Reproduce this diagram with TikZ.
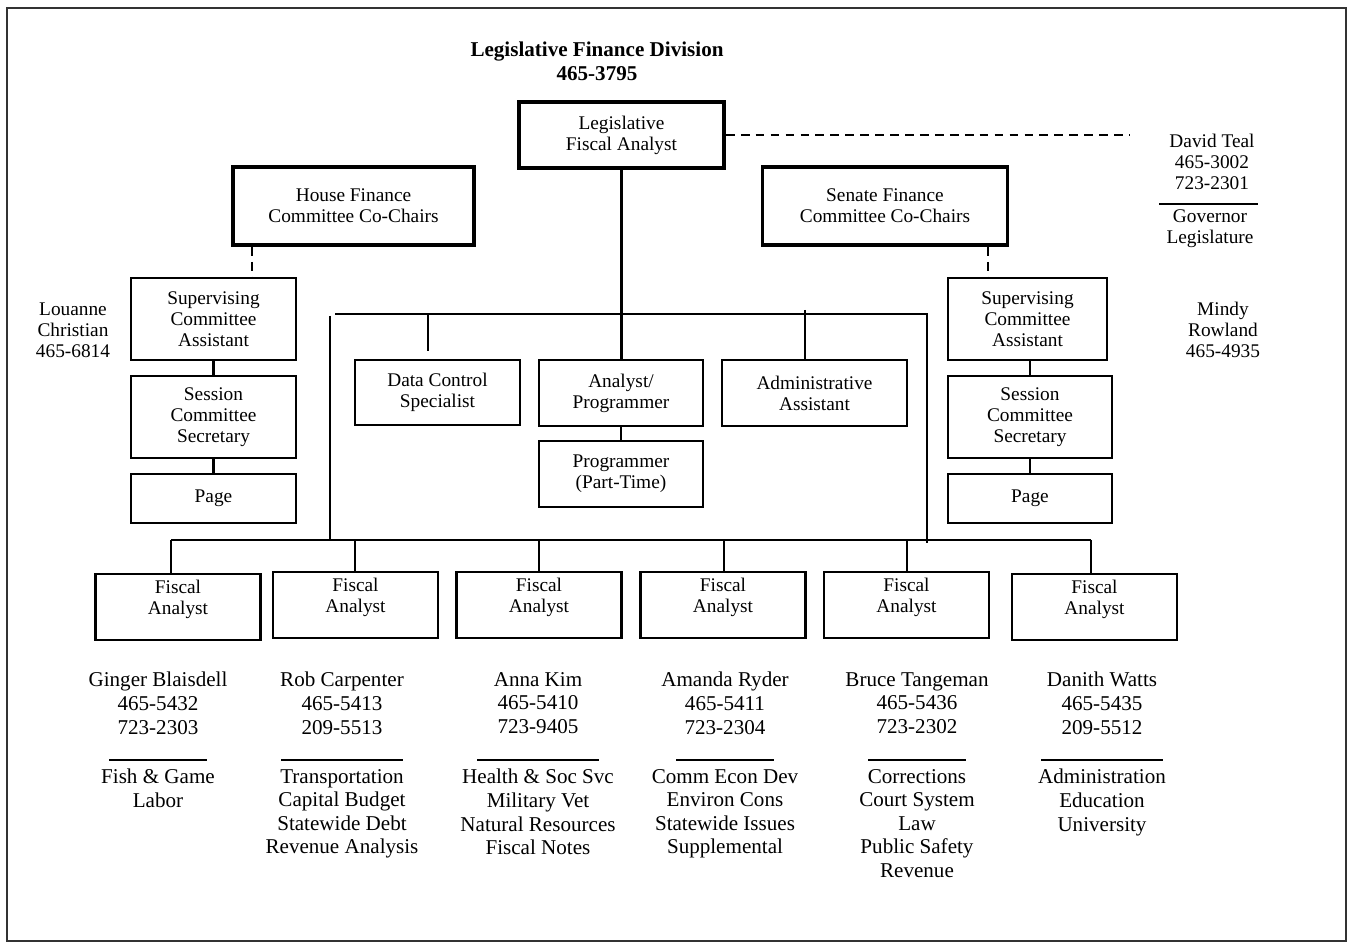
\documentclass[tikz,border=0pt]{standalone}
\usepackage{fontspec}
\setmainfont{Liberation Serif}
\usetikzlibrary{positioning,calc}
\newcommand{\boxfont}{\fontsize{11}{12}\selectfont}
\newcommand{\infofont}{\fontsize{12}{13.4}\selectfont}

\begin{document}
\begin{tikzpicture}[x=0.02cm,y=-0.02cm,
  ln/.style={line width=1.2pt},
  dsh/.style={line width=1.1pt,dash pattern=on 5pt off 3.5pt},
  box/.style={rectangle,draw,line width=1.3pt,align=center,inner sep=1pt,font=\boxfont},
  bbox/.style={box,line width=2.1pt},
  unit/.style={box,minimum width=3.3cm,minimum height=1.32cm},
  tall/.style={box,minimum width=3.3cm,minimum height=1.64cm},
  lab/.style={anchor=north,align=center,inner sep=0pt,yshift=-3.8pt,font=\boxfont},
  side/.style={anchor=north,align=center,inner sep=0pt,font=\boxfont},
  info/.style={anchor=north,align=center,inner sep=0pt,font=\infofont}]
\useasboundingbox (0,0) rectangle (1353,949);
\draw[line width=1pt,black!80] (7,8) rectangle (1346,941);
% heading and top level
\node[anchor=north,align=center,inner sep=0pt,font=\fontsize{12}{13.6}\selectfont\bfseries] (title) at (597,42) {Legislative Finance Division\\465-3795};
\node[bbox,minimum width=4.1cm,minimum height=1.32cm] (lfa) at (621.5,135) {Legislative\\Fiscal Analyst};
\node[bbox,minimum width=4.82cm,minimum height=1.56cm] (house) at (353.5,206) {House Finance\\Committee Co-Chairs};
\node[bbox,minimum width=4.9cm,minimum height=1.56cm] (senate) at (885,206) {Senate Finance\\Committee Co-Chairs};
\coordinate (dte) at (1130,133);
\draw[dsh] (lfa.east) -- (lfa.east -| dte);
\node[side] (teal) at (1212,134) {David Teal\\465-3002\\723-2301};
\draw[ln] (1159,204) -- (1258,204);
\node[side] (gov) at (1210,209) {Governor\\Legislature};
% committee staff
\node[tall] (hsup) at (213.5,319) {Supervising\\Committee\\Assistant};
\node[tall] (hses) at (213.5,417) {Session\\Committee\\Secretary};
\node[box,minimum width=3.3cm,minimum height=0.98cm] (hpage) at (213.5,498.5) {Page};
\node[tall,minimum width=3.18cm] (rsup) at (1027.5,319) {Supervising\\Committee\\Assistant};
\node[tall,minimum width=3.28cm] (rses) at (1030,417) {Session\\Committee\\Secretary};
\node[box,minimum width=3.28cm,minimum height=0.98cm] (rpage) at (1030,498.5) {Page};
\node[side] (lc) at (73,302) {Louanne\\Christian\\465-6814};
\node[side] (mr) at (1223,302) {Mindy\\Rowland\\465-4935};
\coordinate (hd) at (252,0);
\coordinate (sd) at (988,0);
\draw[dsh] (house.south -| hd) -- (hsup.north -| hd);
\draw[dsh] (senate.south -| sd) -- (rsup.north -| sd);
\draw[ln] (hsup) -- (hses);
\draw[ln] (hses) -- (hpage);
\draw[ln] (rses.north) -- (rses.north |- rsup.south);
\draw[ln] (rses) -- (rpage);
% division staff
\node[box,minimum width=3.3cm,minimum height=1.3cm] (dcs) at (437.5,392.5) {Data Control\\Specialist};
\node[box,minimum width=3.28cm,minimum height=1.32cm] (ap) at (621,393) {Analyst/\\Programmer};
\node[box,minimum width=3.28cm,minimum height=1.32cm] (prog) at (621,474) {Programmer\\(Part-Time)};
\node[box,minimum width=3.7cm,minimum height=1.32cm] (adm) at (814.5,393) {Administrative\\Assistant};
\draw[ln] (lfa.south) -- (lfa.south |- ap.north);
\draw[ln] (ap) -- (prog);
\coordinate (tl) at (335,314);
\coordinate (tr) at (927,314);
\coordinate (trb) at (927,543);
\coordinate (lt) at (330,316);
\coordinate (busL) at (171,540);
\coordinate (busR) at (1091,540);
\coordinate (dc) at (428,314);
\coordinate (ad) at (805,310);
\draw[ln] (tl) -- (tr) -- (trb);
\draw[ln] (lt) -- (lt |- busL);
\draw[ln,shorten >=0.16cm] (dc) -- (dc |- dcs.north);
\draw[ln] (ad) -- (ad |- adm.north);
\draw[ln] (busL) -- (busR);
% fiscal analysts
\foreach \i/\cx/\cy/\lx in {1/178/607/171,2/355.5/605/355,3/539/605/539,4/723/605/724,5/906.5/605/907,6/1094.5/607/1091}{
  \node[unit,label={[lab]north:{Fiscal\\Analyst}}] (f\i) at (\cx,\cy) {};
  \coordinate (t\i) at (\lx,540);
  \draw[ln] (t\i) -- (t\i |- f\i.north);
}
\foreach \i/\cx/\w/\nm/\pa/\pb/\tp in {
  1/158/49/Ginger Blaisdell/465-5432/723-2303/{Fish \& Game\\Labor},
  2/342/61/Rob Carpenter/465-5413/209-5513/{Transportation\\Capital Budget\\Statewide Debt\\Revenue Analysis},
  3/538/61/Anna Kim/465-5410/723-9405/{Health \& Soc Svc\\Military Vet\\Natural Resources\\Fiscal Notes},
  4/725/49/Amanda Ryder/465-5411/723-2304/{Comm Econ Dev\\Environ Cons\\Statewide Issues\\Supplemental},
  5/917/49/Bruce Tangeman/465-5436/723-2302/{Corrections\\Court System\\Law\\Public Safety\\Revenue},
  6/1102/61/Danith Watts/465-5435/209-5512/{Administration\\Education\\University}}{
  \node[info] (nm\i) at (\cx,672) {\nm\\\pa\\\pb};
  \draw[ln] (\cx-\w,760) -- (\cx+\w,760);
  \node[info] (tp\i) at (\cx,769) {\tp};
}
\end{tikzpicture}
\end{document}
